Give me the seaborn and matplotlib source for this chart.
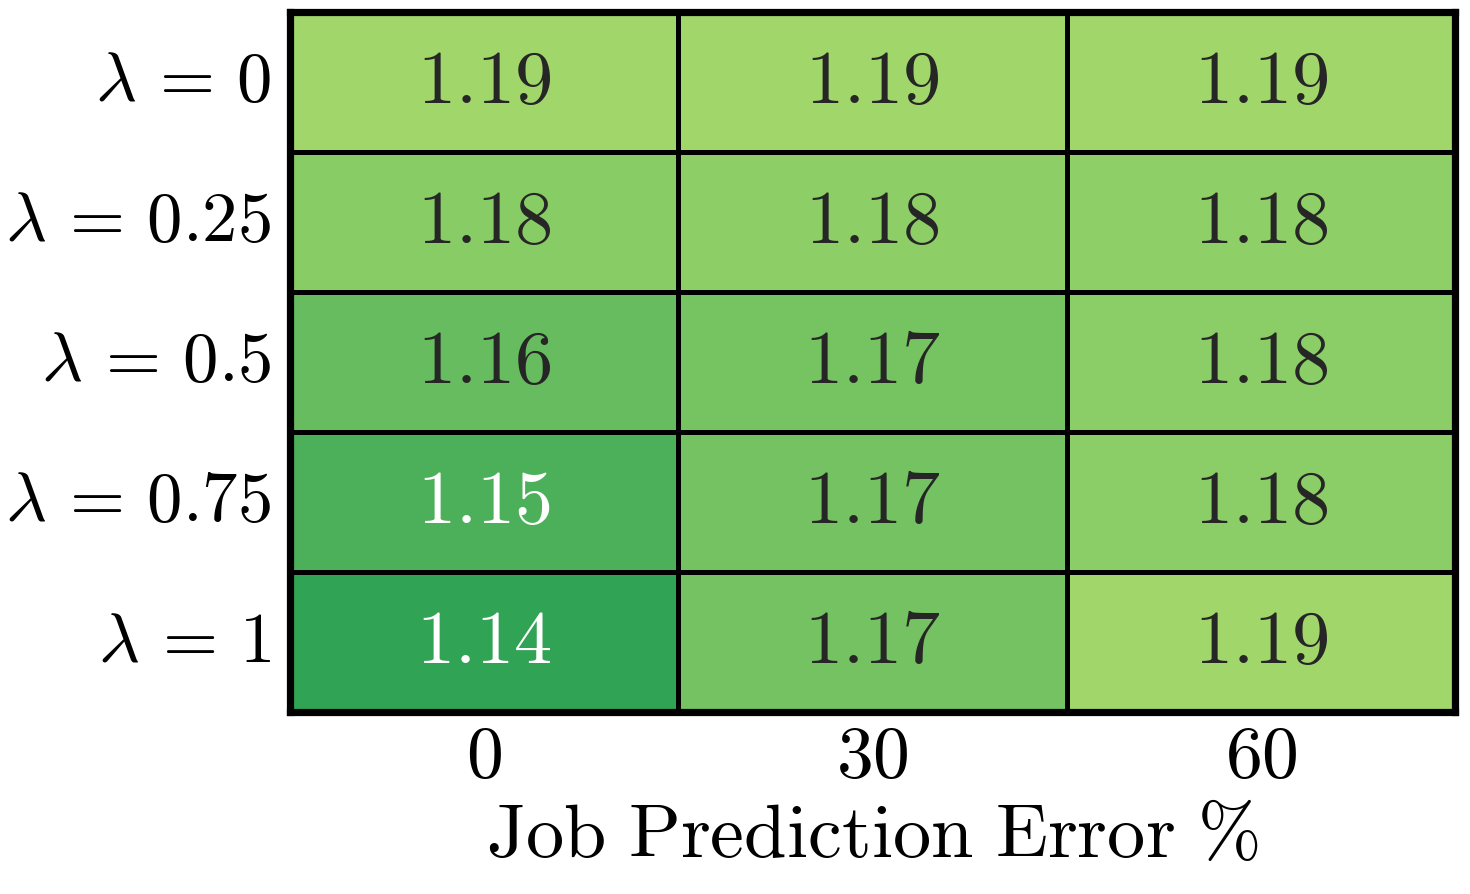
import numpy as np
import pandas as pd
import matplotlib
matplotlib.use("Agg")
import matplotlib.pyplot as plt
import seaborn as sns
from matplotlib.colors import LinearSegmentedColormap

# values (slightly unrounded to reproduce the shading)
lambdas = ["0", "0.25", "0.5", "0.75", "1"]
pred_errors = ["0", "30", "60"]
err_0 = [1.190, 1.179, 1.164, 1.152, 1.140]
err_30 = [1.190, 1.181, 1.171, 1.170, 1.170]
err_60 = [1.190, 1.182, 1.180, 1.180, 1.190]

sns.set_theme(style="white")
plt.rcParams["mathtext.fontset"] = "cm"
plt.rcParams["font.family"] = ["DejaVu Serif"]

df = pd.DataFrame({"0": err_0, "30": err_30, "60": err_60},
                  index=[r"$\lambda\,=\,%s$" % l for l in lambdas])

cmap = LinearSegmentedColormap.from_list("grn", ["#31a354", "#a1d76a"])

fig, ax = plt.subplots(figsize=(7.35, 4.47), dpi=200)
sns.heatmap(df, ax=ax, cmap=cmap, vmin=1.14, vmax=1.19, cbar=False,
            annot=True, fmt=".2f", linewidths=1.1, linecolor="black",
            annot_kws={"fontsize": 27.5})

# render annotations in computer-modern style, white only on the darkest cells
for t in ax.texts:
    v = float(t.get_text())
    t.set_text("$%s$" % t.get_text())
    t.set_color("white" if v < 1.155 else "#262626")

ax.set_xticklabels(["$%s$" % e for e in pred_errors], fontsize=26.5, color="black")
ax.set_yticklabels(df.index, fontsize=25.5, rotation=0, color="black")
ax.set_xlabel(r"$\mathrm{Job\ Prediction\ Error\ \%}$", fontsize=27.5,
              labelpad=2, color="black")
ax.set_ylabel("")
ax.tick_params(axis="x", length=0, pad=3)
ax.tick_params(axis="y", length=0, pad=6.5)

for s in ax.spines.values():
    s.set_visible(True)
    s.set_linewidth(2.6)
    s.set_color("black")

plt.subplots_adjust(left=0.197, right=0.99, top=0.987, bottom=0.204)
plt.savefig("out.png", dpi=200)
